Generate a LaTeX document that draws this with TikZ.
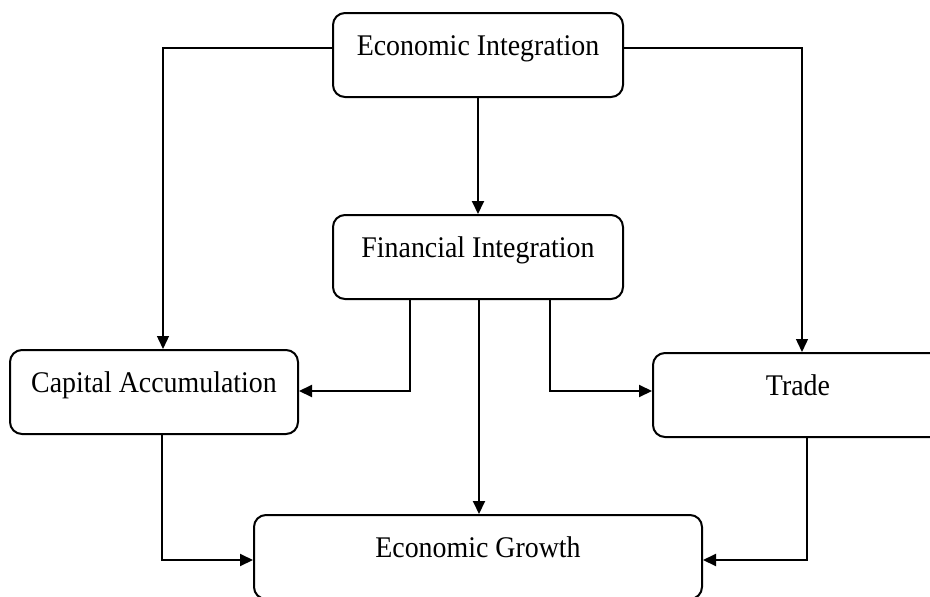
\documentclass[tikz,border=0pt]{standalone}
\usepackage{fontspec}
\setmainfont{Liberation Serif}[FakeStretch=0.93]
\usetikzlibrary{arrows.meta}
\begin{document}
\begin{tikzpicture}[x=1pt,y=-1pt,
  stage/.style={draw, line width=2pt, rounded corners=12pt, inner xsep=0pt, inner ysep=0pt,
    text height=42pt, text depth=42pt, minimum width=290pt,
    font=\fontsize{30}{36}\selectfont},
  link/.style={line width=2pt, -{Triangle[length=13pt,width=12pt]}},
  feed/.style={line width=1.4pt, -{Triangle[length=13pt,width=12pt]}}]
  \clip (0,0) rectangle (930,597);
  \fill[white] (0,0) rectangle (930,597);

  % boxes
  \node[stage] (EI) at (478,55) {Economic Integration};
  \node[stage] (FI) at (478,257) {Financial Integration};
  \node[stage, minimum width=288pt] (CA) at (154,392) {Capital Accumulation};
  \node[stage] (TR) at (798,395) {Trade};
  \node[stage, minimum width=448pt] (EG) at (478,557) {Economic Growth};

  % from economic integration
  \draw[feed] ([yshift=7pt]EI.west) -| ([xshift=9pt]CA.north);
  \draw[feed] ([yshift=7pt]EI.east) -| ([xshift=4pt]TR.north);
  \draw[link] (EI.south) -- (FI.north);

  % from financial integration
  \draw[link] ([xshift=-68pt]FI.south) |- ([yshift=1pt]CA.east);
  \draw[link] ([xshift=72pt]FI.south) |- ([yshift=4pt]TR.west);
  \draw[link] ([xshift=1pt]FI.south) -- ([xshift=1pt]EG.north);

  % into economic growth
  \draw[link] ([xshift=8pt]CA.south) |- ([yshift=-3pt]EG.west);
  \draw[link] ([xshift=9pt]TR.south) |- ([yshift=-3pt]EG.east);
\end{tikzpicture}
\end{document}
